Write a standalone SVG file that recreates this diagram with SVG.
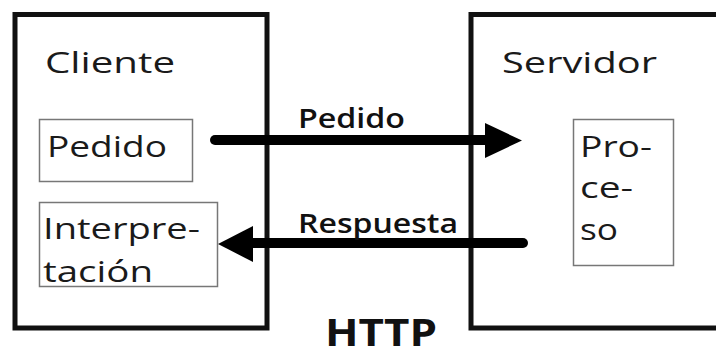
<svg xmlns="http://www.w3.org/2000/svg" width="716" height="349" viewBox="0 0 716 349">
<style>
.outer{fill:none;stroke:#111;stroke-width:5}
.inner{fill:none;stroke:#777;stroke-width:1.5}
.t{font-family:"Open Sans","DejaVu Sans",sans-serif;font-size:30px;fill:#1a1a1a}
.lbl{font-family:"Open Sans","DejaVu Sans",sans-serif;font-size:27px;font-weight:600;fill:#111}
.big{font-family:"Open Sans","DejaVu Sans",sans-serif;font-size:38px;font-weight:700;fill:#111}
.conn{stroke:#000;stroke-width:10;stroke-linecap:round;fill:none}
.head{fill:#000}
</style>
<rect width="716" height="349" fill="#fff"/>
<g id="cliente">
<rect class="outer" x="15" y="14.5" width="252" height="313.5"/>
<text class="t" x="45" y="73" textLength="130" lengthAdjust="spacingAndGlyphs">Cliente</text>
</g>
<g id="servidor">
<rect class="outer" x="471" y="14.5" width="260" height="313.5"/>
<text class="t" x="502" y="73" textLength="155" lengthAdjust="spacingAndGlyphs">Servidor</text>
</g>
<g id="pedido">
<rect class="inner" x="39.5" y="119.5" width="153" height="62"/>
<text class="t" x="47" y="157" textLength="120" lengthAdjust="spacingAndGlyphs">Pedido</text>
</g>
<g id="interpretacion">
<rect class="inner" x="39.5" y="202.5" width="178" height="84"/>
<text class="t" x="43" y="239" textLength="157" lengthAdjust="spacingAndGlyphs">Interpre-</text>
<text class="t" x="43" y="282" textLength="110" lengthAdjust="spacingAndGlyphs">tación</text>
</g>
<g id="proceso">
<rect class="inner" x="573.5" y="119.5" width="100" height="146"/>
<text class="t" x="580" y="157" textLength="72" lengthAdjust="spacingAndGlyphs">Pro-</text>
<text class="t" x="580" y="198" textLength="53" lengthAdjust="spacingAndGlyphs">ce-</text>
<text class="t" x="580" y="240" textLength="38" lengthAdjust="spacingAndGlyphs">so</text>
</g>
<g id="connectors">
<line class="conn" x1="215" y1="140" x2="490" y2="140"/>
<polygon class="head" points="485,123 522,140.5 485,158"/>
<text class="lbl" x="298" y="128" textLength="107" lengthAdjust="spacingAndGlyphs">Pedido</text>
<line class="conn" x1="523" y1="243" x2="250" y2="243"/>
<polygon class="head" points="253,226 218,244 253,262"/>
<text class="lbl" x="298" y="233" textLength="160" lengthAdjust="spacingAndGlyphs">Respuesta</text>
</g>
<g id="http">
<text class="big" x="325" y="346" textLength="112" lengthAdjust="spacingAndGlyphs">HTTP</text>
</g>
</svg>
